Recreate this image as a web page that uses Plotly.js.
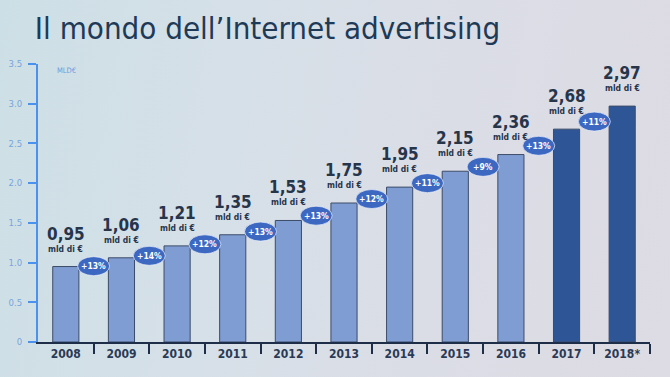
<!DOCTYPE html>
<html>
<head>
<meta charset="utf-8">
<script src="https://cdn.plot.ly/plotly-3.0.1.min.js"></script>
<style>
html,body{margin:0;padding:0;width:670px;height:377px;overflow:hidden;}
body{background:linear-gradient(100deg,#cddfe6 0%,#d6e0e8 35%,#dbdde6 65%,#dddbe3 100%);}
#chart{width:670px;height:377px;}
</style>
</head>
<body>
<div id="chart"></div>
<script>
const years = ['2008','2009','2010','2011','2012','2013','2014','2015','2016','2017','2018*'];
const values = [0.95,1.06,1.21,1.35,1.53,1.75,1.95,2.15,2.36,2.68,2.97];
const valueLabels = ['0,95','1,06','1,21','1,35','1,53','1,75','1,95','2,15','2,36','2,68','2,97'];
const growth = ['+13%','+14%','+12%','+13%','+13%','+12%','+11%','+9%','+13%','+11%'];
const yTicks = [0,0.5,1.0,1.5,2.0,2.5,3.0,3.5];
const yTickText = ['0','0.5','1.0','1.5','2.0','2.5','3.0','3.5'];
const unitLabel = 'MLD€';
const subLabel = 'mld di €';

const idx = years.map((_, i) => i);
const light = '#7f9dd3', dark = '#2e5596';
const colors = idx.map(i => i >= 9 ? dark : light);
const cond = '"Liberation Sans Narrow","DejaVu Sans Condensed",Arial,sans-serif';

const annotations = [];
const shapes = [];
idx.forEach(i => {
  annotations.push({x:i, y:values[i], xref:'x', yref:'y', text:valueLabels[i], showarrow:false,
    yanchor:'bottom', yshift:21, font:{family:cond, size:17, color:'#27354b', weight:'bold'}});
  annotations.push({x:i, y:values[i], xref:'x', yref:'y', text:subLabel, showarrow:false,
    yanchor:'bottom', yshift:11, font:{family:cond, size:8.5, color:'#27354b', weight:'bold'}});
});
growth.forEach((g, i) => {
  const yb = (values[i] + values[i+1]) / 2 - 0.05;
  shapes.push({type:'circle', xref:'x', yref:'y', xsizemode:'pixel', ysizemode:'pixel',
    xanchor:i+0.5, yanchor:yb, x0:-16, x1:16, y0:-9.5, y1:9.5, layer:'above',
    fillcolor:'#3c68c2', line:{color:'rgba(235,240,250,0.7)', width:1}});
  annotations.push({x:i+0.5, y:yb, xref:'x', yref:'y', text:g, showarrow:false,
    font:{family:cond, size:8.5, color:'#ffffff', weight:'bold'}});
});
annotations.push({x:0.027, y:3.42, xref:'paper', yref:'y', text:unitLabel, showarrow:false,
  xanchor:'left', yanchor:'middle', font:{family:cond, size:7.5, color:'#6d9be0'}});

const trace = {
  type:'bar', x:idx, y:values, width:0.47,
  marker:{color:colors, line:{color:'#3c4c68', width:1}},
  hoverinfo:'skip'
};

const layout = {
  width:670, height:377,
  margin:{l:38, r:20, t:64, b:35},
  paper_bgcolor:'rgba(0,0,0,0)', plot_bgcolor:'rgba(0,0,0,0)',
  showlegend:false,
  title:{text:'Il mondo dell’Internet advertising', xref:'container', yref:'container',
    x:0.052, xanchor:'left', y:0.925, yanchor:'middle',
    font:{family:cond, size:31, color:'#1e3a57'}},
  xaxis:{range:[-0.5,10.5], tickmode:'array', tickvals:idx, ticktext:years, ticks:'',
    showline:true, linecolor:'#1e2e48', linewidth:2, showgrid:false, zeroline:false,
    tickfont:{family:cond, size:12, color:'#2a3a55', weight:'bold'},
    minor:{tickmode:'array', tickvals:idx.map(i => i + 0.5), ticks:'outside', ticklen:10,
      tickwidth:2, tickcolor:'#1e2e48'}},
  yaxis:{range:[0,3.5], tickmode:'array', tickvals:yTicks, ticktext:yTickText,
    ticks:'outside', ticklen:8, tickwidth:2, tickcolor:'#4a92ee',
    showline:true, linecolor:'#4a92ee', linewidth:2, showgrid:false, zeroline:false,
    tickfont:{family:cond, size:9.5, color:'#78a5dc'}, ticklabelstandoff:4},
  annotations:annotations, shapes:shapes
};

Plotly.newPlot('chart', [trace], layout, {displayModeBar:false, staticPlot:true});
</script>
</body>
</html>
